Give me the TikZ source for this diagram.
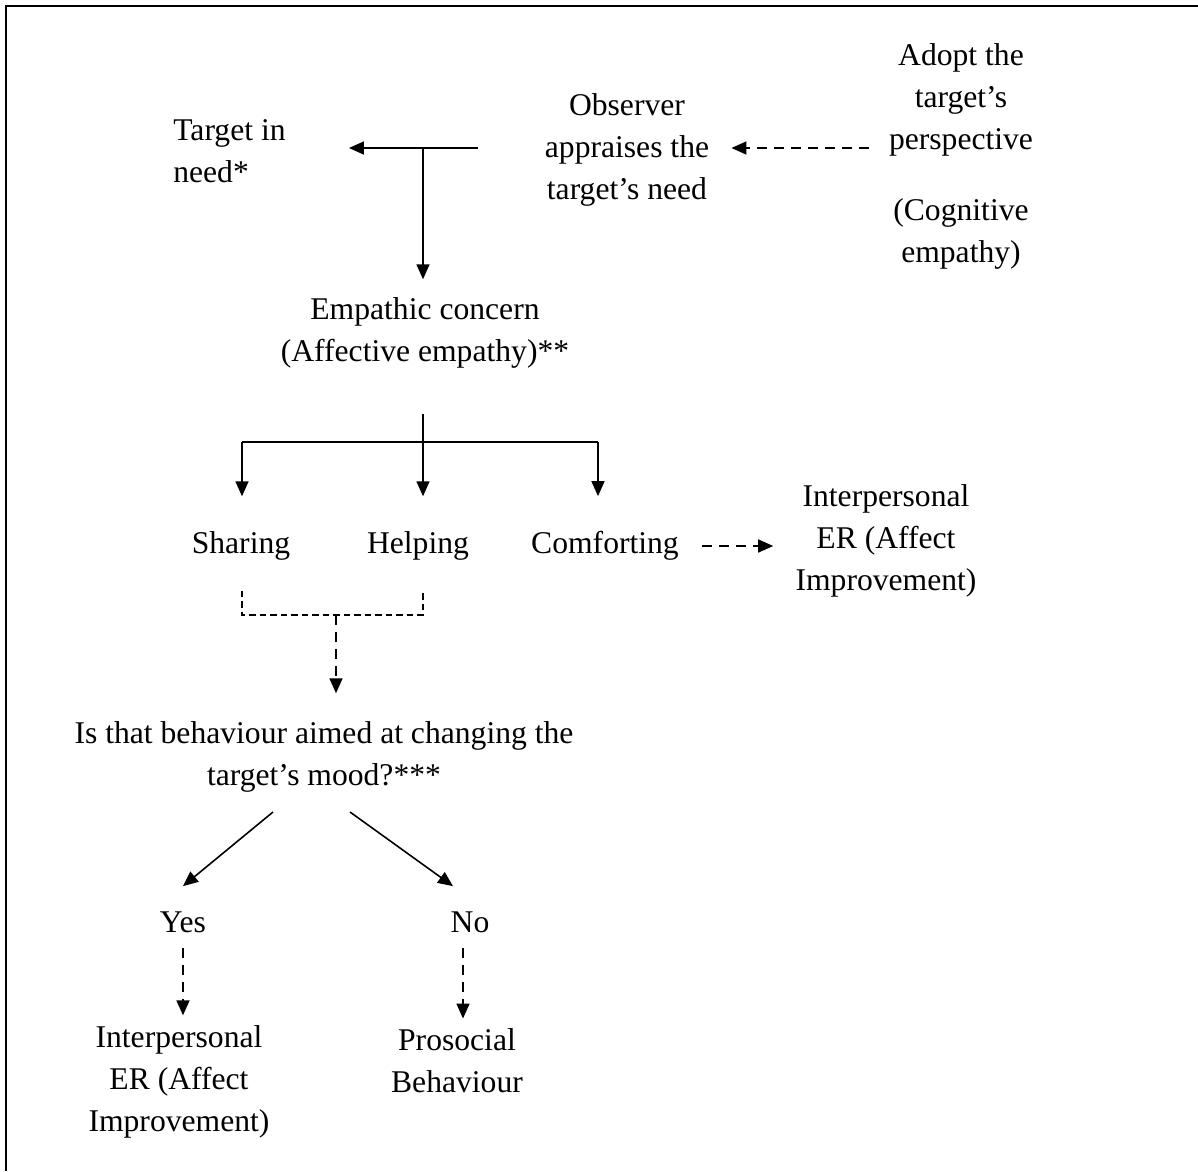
\documentclass[tikz,border=0pt]{standalone}
\usepackage{fontspec}
\setmainfont{Liberation Serif}
\usepackage{tikz}
\usetikzlibrary{arrows.meta, positioning, calc}

\begin{document}
\begin{tikzpicture}[
    x=0.02cm, y=-0.02cm,
    % Styles
    label/.style={
        inner sep=0pt,
        align=center,
        font=\fontsize{18}{23.9}\selectfont
    },
    solidarrow/.style={
        -{Triangle[length=0.3cm, width=0.26cm]},
        line width=0.9pt
    },
    solidline/.style={
        line width=0.9pt
    },
    dasharrow/.style={
        -{Triangle[length=0.3cm, width=0.26cm]},
        line width=0.9pt,
        dash pattern=on 0.2cm off 0.14cm
    },
    bracketline/.style={
        line width=0.6pt,
        dash pattern=on 0.13cm off 0.08cm
    },
    frameline/.style={
        line width=1.4pt
    }
]
\useasboundingbox (0,0) rectangle (1198,1171);

% Frame
\draw[frameline] (6,1171) -- (6,6) -- (1198,6);

% Nodes
\node[label, align=left, anchor=west] (target) at (173,151) {Target in\\need*};
\node[label] (observer) at (627,150) {Observer\\appraises the\\target’s need};
\node[label] (adopt) at (961,100) {Adopt the\\target’s\\perspective};
\node[label] (cognitive) at (961,234) {(Cognitive\\empathy)};
\node[label] (concern) at (425,333) {Empathic concern\\(Affective empathy)**};
\node[label] (sharing) at (241,546) {Sharing};
\node[label] (helping) at (418,546) {Helping};
\node[label] (comforting) at (605,546) {Comforting};
\node[label] (erright) at (886,541) {Interpersonal\\ER (Affect\\Improvement)};
\node[label] (question) at (324,757) {Is that behaviour aimed at changing the\\target’s mood?***};
\node[label] (yes) at (183,922) {Yes};
\node[label] (no) at (470,922) {No};
\node[label] (erleft) at (179,1082) {Interpersonal\\ER (Affect\\Improvement)};
\node[label] (prosocial) at (457,1061) {Prosocial\\Behaviour};

% Junctions
\coordinate (tjoin) at (423,148);
\coordinate (split) at (423,442);
\coordinate (fanleft) at (242,442);
\coordinate (fanright) at (598,442);
\coordinate (bracketjoin) at (336,615);
\coordinate (qleft) at (273,812);
\coordinate (qright) at (350,812);

% Connectors - appraisal
\draw[solidarrow] ([xshift=-1.34cm]observer.west |- tjoin) -- ([xshift=1.26cm]target.east |- tjoin);
\draw[solidarrow] (tjoin) -- ([yshift=0.36cm]tjoin |- concern.north);
\draw[dasharrow] ([xshift=-0.4cm]adopt.west |- tjoin) -- ([xshift=0.44cm]observer.east |- tjoin);

% Connectors - empathic concern
\draw[solidline] ([yshift=-0.9cm]split |- concern.south) -- (split);
\draw[solidline] (fanleft) -- (fanright);
\draw[solidarrow] (fanleft) -- ([yshift=0.7cm]fanleft |- sharing.north);
\draw[solidarrow] (split) -- ([yshift=0.7cm]split |- helping.north);
\draw[solidarrow] (fanright) -- ([yshift=0.7cm]fanright |- comforting.north);
\draw[dasharrow, shorten <=0.46cm, shorten >=0.44cm] (comforting.east) -- (comforting.east -| erright.west);

% Connectors - behaviour
\draw[bracketline] ([yshift=-0.6cm]fanleft |- sharing.south) -- (fanleft |- bracketjoin)
    -- (split |- bracketjoin) -- ([yshift=-0.6cm]split |- helping.south);
\draw[dasharrow] (bracketjoin) -- ([yshift=0.56cm]bracketjoin |- question.north);
\draw[solidarrow] (qleft) -- ([yshift=0.5cm]yes.north);
\draw[solidarrow] (qright) -- ([xshift=-0.34cm, yshift=0.5cm]no.north);
\draw[dasharrow, shorten <=0.3cm, shorten >=0.2cm] (yes.south) -- (yes.south |- erleft.north);
\draw[dasharrow, shorten <=0.3cm, shorten >=0.2cm] ([xshift=-0.14cm]no.south) -- ([xshift=-0.14cm]no.south |- prosocial.north);

\end{tikzpicture}
\end{document}
